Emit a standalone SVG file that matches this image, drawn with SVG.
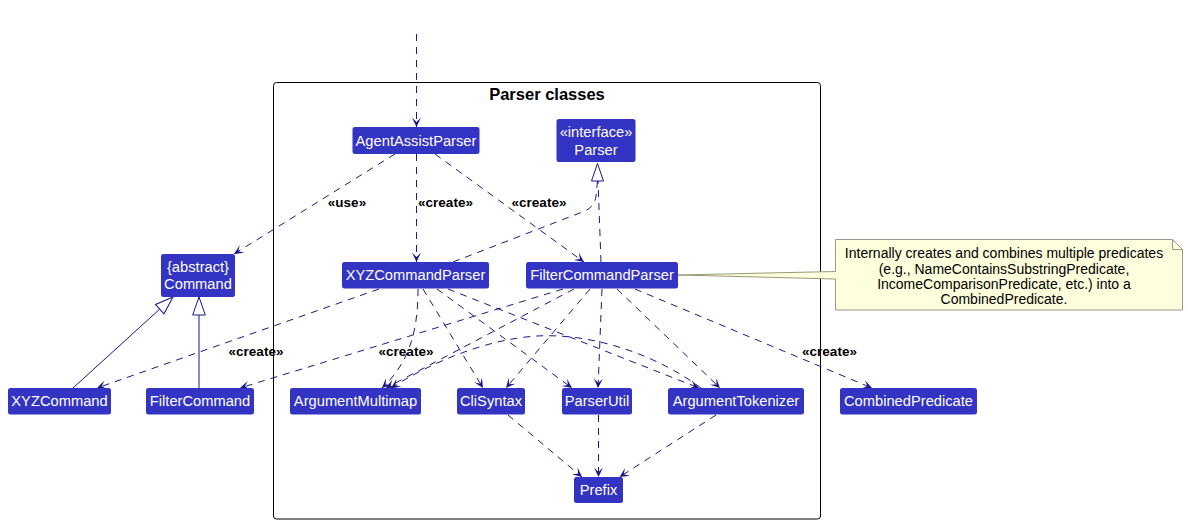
<svg xmlns="http://www.w3.org/2000/svg" width="1188" height="524" viewBox="0 0 1188 524">
<style>
.n{fill:#3333C4;}
.t{font-family:"Liberation Sans",Arial,sans-serif;font-size:14.7px;fill:#FFFFFF;text-anchor:middle;}
.l{font-family:"Liberation Sans",Arial,sans-serif;font-size:13.5px;font-weight:bold;fill:#000;text-anchor:middle;}
.d{fill:none;stroke:#181888;stroke-width:1;stroke-dasharray:7,6;marker-end:url(#arr);}
.s{fill:none;stroke:#181888;stroke-width:1;marker-end:url(#tri);}
.r{fill:none;stroke:#181888;stroke-width:1;stroke-dasharray:7,6;}
.nt{font-family:"Liberation Sans",Arial,sans-serif;font-size:14px;fill:#000;text-anchor:middle;}
</style>
<defs>
<marker id="arr" viewBox="-11 -6 12 12" refX="0" refY="0" markerWidth="12" markerHeight="12" orient="auto" markerUnits="userSpaceOnUse">
<path d="M0,0 L-9.5,-4.5 L-5,0 L-9.5,4.5 Z" fill="#181888"/>
</marker>
<marker id="tri" viewBox="-20 -8 22 16" refX="0" refY="0" markerWidth="22" markerHeight="16" orient="auto" markerUnits="userSpaceOnUse">
<path d="M0,0 L-18,-6.3 L-18,6.3 Z" fill="#FFFFFF" stroke="#181888" stroke-width="1"/>
</marker>
</defs>
<rect width="1188" height="524" fill="#FFFFFF"/>

<g id="frame">
<rect x="273.5" y="82.5" width="547" height="436.5" rx="3" fill="none" stroke="#000" stroke-width="1"/>
<text x="547" y="99.5" font-family="Liberation Sans,Arial,sans-serif" font-size="16.5" font-weight="bold" text-anchor="middle">Parser classes</text>
</g>

<g id="note">
<polygon points="678,275 835.5,271.5 835.5,279" fill="#FEFFDD" stroke="#9A9A7A" stroke-width="1"/>
<path d="M835.5,239.5 L1172.5,239.5 L1182.5,249.5 L1182.5,310 L835.5,310 Z" fill="#FEFFDD" stroke="#9A9A8A" stroke-width="1"/>
<path d="M1172.5,239.5 L1172.5,249.5 L1182.5,249.5" fill="none" stroke="#9A9A8A" stroke-width="1"/>
<line x1="835.5" y1="272" x2="835.5" y2="278.5" stroke="#FEFFDD" stroke-width="1.5"/>
<text class="nt" x="1004" y="258">Internally creates and combines multiple predicates</text>
<text class="nt" x="1004" y="273.5">(e.g., NameContainsSubstringPredicate,</text>
<text class="nt" x="1004" y="288.5">IncomeComparisonPredicate, etc.) into a</text>
<text class="nt" x="1004" y="304">CombinedPredicate.</text>
</g>

<g id="connectors">
<line class="d" x1="416.5" y1="34" x2="416.5" y2="127"/>
<line class="d" x1="395" y1="154" x2="234" y2="254"/>
<line class="d" x1="416.5" y1="154" x2="416.5" y2="262"/>
<line class="d" x1="435" y1="154" x2="584" y2="262"/>
<line class="r" x1="601" y1="262" x2="598" y2="181"/>
<path class="r" d="M453,262 L585,211 Q595,206 596,196 L597.5,181"/>
<polygon points="597.5,163.5 591.5,181 603.5,181" fill="#FFFFFF" stroke="#181888" stroke-width="1"/>
<line class="s" x1="73" y1="388" x2="173" y2="297"/>
<line class="s" x1="199" y1="388" x2="199" y2="297"/>
<line class="d" x1="379" y1="289" x2="97" y2="388"/>
<path class="d" d="M418,289 C418,330 410,362 382,388"/>
<line class="d" x1="423" y1="289" x2="483" y2="388"/>
<line class="d" x1="437" y1="289" x2="572" y2="388"/>
<line class="d" x1="448" y1="289" x2="699" y2="388"/>
<line class="d" x1="563" y1="289" x2="240" y2="388"/>
<line class="d" x1="574" y1="289" x2="386" y2="388"/>
<line class="d" x1="590" y1="289" x2="506" y2="388"/>
<line class="d" x1="602" y1="289" x2="598" y2="388"/>
<line class="d" x1="617" y1="289" x2="720" y2="388"/>
<line class="d" x1="635" y1="289" x2="872" y2="388"/>
<path class="d" d="M701,388 C655,354 592,333 537,336 C487,339 432,362 391,388"/>
<line class="d" x1="508" y1="415" x2="582" y2="477"/>
<line class="d" x1="598.5" y1="415" x2="598.5" y2="477"/>
<line class="d" x1="716" y1="415" x2="619.5" y2="477"/>
<text class="l" x="347" y="206.5">«use»</text>
<text class="l" x="445.5" y="206.5">«create»</text>
<text class="l" x="539" y="206.5">«create»</text>
<text class="l" x="256" y="355.5">«create»</text>
<text class="l" x="406" y="355.5">«create»</text>
<text class="l" x="829.5" y="355.5">«create»</text>
</g>

<g id="AgentAssistParser"><rect class="n" x="352.5" y="127" width="127" height="27" rx="2.5"/><text class="t" x="416" y="145.5">AgentAssistParser</text></g>
<g id="Parser"><rect class="n" x="556.5" y="119" width="79" height="43" rx="2.5"/><text class="t" x="596" y="137">«interface»</text><text class="t" x="596" y="155">Parser</text></g>
<g id="Command"><rect class="n" x="161" y="254" width="74" height="43" rx="2.5"/><text class="t" x="198" y="272">{abstract}</text><text class="t" x="198" y="288.5">Command</text></g>
<g id="XYZCommandParser"><rect class="n" x="342" y="262" width="147" height="26.5" rx="2.5"/><text class="t" x="415.5" y="280">XYZCommandParser</text></g>
<g id="FilterCommandParser"><rect class="n" x="526" y="262" width="152" height="26.5" rx="2.5"/><text class="t" x="602" y="280">FilterCommandParser</text></g>
<g id="XYZCommand"><rect class="n" x="8" y="388" width="103" height="26.5" rx="2.5"/><text class="t" x="59.5" y="406">XYZCommand</text></g>
<g id="FilterCommand"><rect class="n" x="146" y="388" width="108" height="26.5" rx="2.5"/><text class="t" x="200" y="406">FilterCommand</text></g>
<g id="ArgumentMultimap"><rect class="n" x="290" y="388" width="131" height="26.5" rx="2.5"/><text class="t" x="355.5" y="406">ArgumentMultimap</text></g>
<g id="CliSyntax"><rect class="n" x="457" y="388" width="68" height="26.5" rx="2.5"/><text class="t" x="491" y="406">CliSyntax</text></g>
<g id="ParserUtil"><rect class="n" x="562" y="388" width="70" height="26.5" rx="2.5"/><text class="t" x="597" y="406">ParserUtil</text></g>
<g id="ArgumentTokenizer"><rect class="n" x="668" y="388" width="136" height="26.5" rx="2.5"/><text class="t" x="736" y="406">ArgumentTokenizer</text></g>
<g id="CombinedPredicate"><rect class="n" x="840" y="388" width="137" height="26.5" rx="2.5"/><text class="t" x="908.5" y="406">CombinedPredicate</text></g>
<g id="Prefix"><rect class="n" x="574" y="477" width="49" height="26" rx="2.5"/><text class="t" x="598.5" y="495">Prefix</text></g>
</svg>
